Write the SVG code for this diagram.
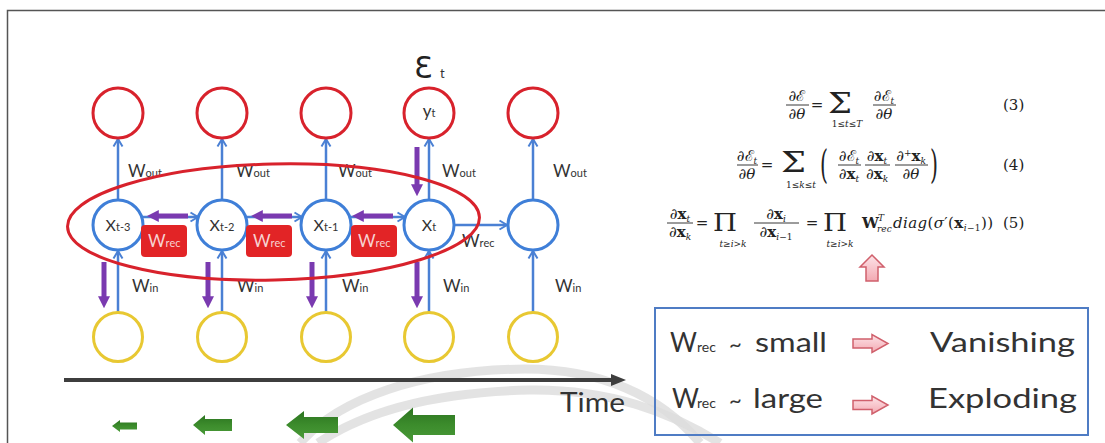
<svg xmlns="http://www.w3.org/2000/svg" width="1105" height="443" viewBox="0 0 1105 443">
  <style>
    .lbl { font-family: Lato, "DejaVu Sans", sans-serif; fill: #333; }
    .math { font-family: "DejaVu Serif", "Liberation Serif", serif; font-size: 15px; fill: #222; }
    .it { font-style: italic; }
    .bf { font-weight: bold; }
    .s { font-size: 9px; }
    .bar { stroke: #222; stroke-width: 0.9; }
    .out { fill: #fff; stroke: #d8222c; stroke-width: 3; }
    .hid { fill: #fff; stroke: #3f7fd8; stroke-width: 3; }
    .inp { fill: #fff; stroke: #e8c832; stroke-width: 3; }
    .wire { stroke: #4a80d4; stroke-width: 2.5; fill: none; marker-end: url(#chev); }
    .grad { stroke: #7a3ab0; stroke-width: 5; fill: none; marker-end: url(#phead); }
    .wrec { fill: #e22426; }
    .wtxt { font-family: Lato, "DejaVu Sans", sans-serif; fill: #f7d2d2; }
    .arc { fill: none; stroke: #dcdcdc; stroke-width: 9; opacity: 0.8; }
    .pink { fill: url(#pinkfill); stroke: #d0606c; stroke-width: 1.5; }
    .green { fill: url(#greenfill); }
  </style>
  <defs>
    <marker id="chev" markerUnits="userSpaceOnUse" markerWidth="12" markerHeight="12" viewBox="0 0 12 12" refX="10.5" refY="6" orient="auto">
      <path d="M3,1.5 L10.5,6 L3,10.5" fill="none" stroke="#4a80d4" stroke-width="2"/>
    </marker>
    <marker id="phead" markerUnits="userSpaceOnUse" markerWidth="12" markerHeight="12" viewBox="0 0 10 10" refX="1.5" refY="5" orient="auto">
      <path d="M0,0 L10,5 L0,10 z" fill="#7a3ab0"/>
    </marker>
    <linearGradient id="pinkfill" x1="0" y1="0" x2="0" y2="1">
      <stop offset="0" stop-color="#fde4e8"/>
      <stop offset="1" stop-color="#f3a9b2"/>
    </linearGradient>
    <linearGradient id="greenfill" x1="0" y1="0" x2="0" y2="1">
      <stop offset="0" stop-color="#2c7420"/>
      <stop offset="0.5" stop-color="#3c8c2c"/>
      <stop offset="1" stop-color="#4a9a38"/>
    </linearGradient>
  </defs>

  <rect width="1105" height="443" fill="#fff"/>

  <!-- frame and faint background arcs -->
  <g id="backdrop">
    <path class="arc" d="M 300 443 C 340 398, 420 370, 525 369 C 600 369, 660 395, 700 443"/>
    <path class="arc" d="M 318 443 C 370 408, 440 392, 530 390 C 610 389, 670 412, 720 443"/>
    <path d="M 7.5 443 L 7.5 10.5 L 1105 10.5" fill="none" stroke="#555" stroke-width="1.5"/>
  </g>

  <!-- weight connections and gradient flow -->
  <g id="connectors">
    <!-- hidden -> output -->
    <line class="wire" x1="118" y1="200" x2="118" y2="139"/>
    <line class="wire" x1="222" y1="200" x2="222" y2="139"/>
    <line class="wire" x1="326" y1="200" x2="326" y2="139"/>
    <line class="wire" x1="429" y1="200" x2="429" y2="139"/>
    <line class="wire" x1="533" y1="200" x2="533" y2="139"/>
    <!-- input -> hidden -->
    <line class="wire" x1="118" y1="312" x2="118" y2="251"/>
    <line class="wire" x1="222" y1="312" x2="222" y2="251"/>
    <line class="wire" x1="326" y1="312" x2="326" y2="251"/>
    <line class="wire" x1="429" y1="312" x2="429" y2="251"/>
    <line class="wire" x1="533" y1="312" x2="533" y2="251"/>
    <!-- hidden -> hidden -->
    <line class="wire" x1="142" y1="217" x2="198" y2="217"/>
    <line class="wire" x1="246" y1="217" x2="302" y2="217"/>
    <line class="wire" x1="350" y1="217" x2="405" y2="217"/>
    <line class="wire" x1="454" y1="225" x2="507" y2="225"/>
    <!-- backpropagated gradients -->
    <line class="grad" x1="417" y1="147" x2="417" y2="186"/>
    <line class="grad" x1="188" y1="216" x2="157" y2="216"/>
    <line class="grad" x1="292" y1="216" x2="261" y2="216"/>
    <line class="grad" x1="393" y1="216" x2="362" y2="216"/>
    <line class="grad" x1="104" y1="262" x2="104" y2="298"/>
    <line class="grad" x1="208" y1="262" x2="208" y2="298"/>
    <line class="grad" x1="312" y1="262" x2="312" y2="298"/>
    <line class="grad" x1="417" y1="262" x2="417" y2="298"/>
  </g>

  <!-- output layer -->
  <g id="y1"><circle class="out" cx="118" cy="113" r="25"/></g>
  <g id="y2"><circle class="out" cx="222" cy="113" r="25"/></g>
  <g id="y3"><circle class="out" cx="326" cy="113" r="25"/></g>
  <g id="y4"><circle class="out" cx="429" cy="113" r="25"/>
    <text class="lbl" x="429" y="117" text-anchor="middle" font-size="17">y<tspan font-size="11">t</tspan></text></g>
  <g id="y5"><circle class="out" cx="533" cy="113" r="25"/></g>

  <!-- hidden layer -->
  <g id="h1"><circle class="hid" cx="118" cy="225" r="25"/>
    <text class="lbl" x="118" y="231" text-anchor="middle" font-size="16" fill="#222">X<tspan font-size="11">t-3</tspan></text></g>
  <g id="h2"><circle class="hid" cx="222" cy="225" r="25"/>
    <text class="lbl" x="222" y="231" text-anchor="middle" font-size="16" fill="#222">X<tspan font-size="11">t-2</tspan></text></g>
  <g id="h3"><circle class="hid" cx="326" cy="225" r="25"/>
    <text class="lbl" x="326" y="231" text-anchor="middle" font-size="16" fill="#222">X<tspan font-size="11">t-1</tspan></text></g>
  <g id="h4"><circle class="hid" cx="429" cy="225" r="25"/>
    <text class="lbl" x="429" y="231" text-anchor="middle" font-size="16" fill="#222">X<tspan font-size="11">t</tspan></text></g>
  <g id="h5"><circle class="hid" cx="533" cy="225" r="25"/></g>

  <!-- input layer -->
  <g id="in1"><circle class="inp" cx="118" cy="337" r="24.5"/></g>
  <g id="in2"><circle class="inp" cx="222" cy="337" r="24.5"/></g>
  <g id="in3"><circle class="inp" cx="326" cy="337" r="24.5"/></g>
  <g id="in4"><circle class="inp" cx="429" cy="337" r="24.5"/></g>
  <g id="in5"><circle class="inp" cx="533" cy="337" r="24.5"/></g>

  <!-- recurrent weight tags -->
  <g id="wrec1"><rect class="wrec" x="141" y="225" width="46" height="32" rx="4"/>
    <text class="wtxt" x="148" y="247" font-size="17">W<tspan font-size="11">rec</tspan></text></g>
  <g id="wrec2"><rect class="wrec" x="246" y="225" width="46" height="32" rx="4"/>
    <text class="wtxt" x="253" y="247" font-size="17">W<tspan font-size="11">rec</tspan></text></g>
  <g id="wrec3"><rect class="wrec" x="351" y="225" width="46" height="32" rx="4"/>
    <text class="wtxt" x="358" y="247" font-size="17">W<tspan font-size="11">rec</tspan></text></g>

  <!-- weight labels -->
  <g id="weight-labels" class="lbl" font-size="17">
    <text x="128" y="177">W<tspan font-size="11">out</tspan></text>
    <text x="236" y="177">W<tspan font-size="11">out</tspan></text>
    <text x="338" y="177">W<tspan font-size="11">out</tspan></text>
    <text x="442" y="177">W<tspan font-size="11">out</tspan></text>
    <text x="553" y="177">W<tspan font-size="11">out</tspan></text>
    <text x="132" y="292">W<tspan font-size="11">in</tspan></text>
    <text x="237" y="292">W<tspan font-size="11">in</tspan></text>
    <text x="342" y="292">W<tspan font-size="11">in</tspan></text>
    <text x="443" y="292">W<tspan font-size="11">in</tspan></text>
    <text x="555" y="292">W<tspan font-size="11">in</tspan></text>
    <text x="462" y="247">W<tspan font-size="11">rec</tspan></text>
  </g>

  <!-- error term -->
  <g id="error">
    <text x="414" y="78" font-family="'DejaVu Sans', sans-serif" font-size="30" fill="#222">Ɛ</text>
    <text class="lbl" x="440" y="78" font-size="13" fill="#222">t</text>
  </g>

  <!-- unrolled window -->
  <ellipse cx="273.5" cy="222" rx="206" ry="58" fill="none" stroke="#d8222c" stroke-width="3" transform="rotate(-1.3 273.5 222)"/>

  <!-- time axis -->
  <g id="time">
    <line x1="64" y1="380" x2="614" y2="380" stroke="#3e3e3e" stroke-width="4"/>
    <polygon points="611,374 626,380 611,386" fill="#3e3e3e"/>
    <text class="lbl" x="560" y="412" font-size="26" textLength="65" lengthAdjust="spacingAndGlyphs" fill="#2a2a2a">Time</text>
  </g>

  <!-- gradient magnitude arrows -->
  <g id="magnitudes">
    <polygon class="green" points="112,426 120,420 120,422.5 137,422.5 137,429.5 120,429.5 120,432"/>
    <polygon class="green" points="193,425 205,415 205,419 232,419 232,431 205,431 205,435"/>
    <polygon class="green" points="286,425 304,411 304,417 338,417 338,433 304,433 304,439"/>
    <polygon class="green" points="393,425 413,407.5 413,415 455,415 455,435 413,435 413,442.5"/>
  </g>

  <!-- equation (3) -->
  <g id="eq3" class="math">
    <text x="797" y="101" text-anchor="middle">∂ℰ</text>
    <line class="bar" x1="786" y1="105" x2="809" y2="105"/>
    <text x="797" y="119" text-anchor="middle">∂<tspan class="it">θ</tspan></text>
    <text x="817" y="110" text-anchor="middle">=</text>
    <text x="828" y="113" font-size="27" textLength="24" lengthAdjust="spacingAndGlyphs">Σ</text>
    <text class="s" x="847" y="127" text-anchor="middle">1≤<tspan class="it">t</tspan>≤<tspan class="it">T</tspan></text>
    <text x="884" y="101" text-anchor="middle">∂ℰ<tspan class="s it" dy="3">t</tspan></text>
    <line class="bar" x1="873" y1="105" x2="896" y2="105"/>
    <text x="884" y="119" text-anchor="middle">∂<tspan class="it">θ</tspan></text>
    <text x="1003" y="110">(3)</text>
  </g>

  <!-- equation (4) -->
  <g id="eq4" class="math">
    <text x="747" y="161" text-anchor="middle">∂ℰ<tspan class="s it" dy="3">t</tspan></text>
    <line class="bar" x1="737" y1="165" x2="758" y2="165"/>
    <text x="747" y="179" text-anchor="middle">∂<tspan class="it">θ</tspan></text>
    <text x="767" y="170" text-anchor="middle">=</text>
    <text x="781" y="172" font-size="27" textLength="25" lengthAdjust="spacingAndGlyphs">Σ</text>
    <text class="s" x="801" y="188" text-anchor="middle">1≤<tspan class="it">k</tspan>≤<tspan class="it">t</tspan></text>
    <text x="820" y="178" font-size="39" textLength="8" lengthAdjust="spacingAndGlyphs">(</text>
    <text x="849" y="161" text-anchor="middle">∂ℰ<tspan class="s it" dy="3">t</tspan></text>
    <line class="bar" x1="838" y1="165" x2="861" y2="165"/>
    <text x="849" y="179" text-anchor="middle">∂<tspan class="bf">x</tspan><tspan class="s it" dy="3">t</tspan></text>
    <text x="877" y="161" text-anchor="middle">∂<tspan class="bf">x</tspan><tspan class="s it" dy="3">t</tspan></text>
    <line class="bar" x1="865" y1="165" x2="890" y2="165"/>
    <text x="877" y="179" text-anchor="middle">∂<tspan class="bf">x</tspan><tspan class="s it" dy="3">k</tspan></text>
    <text x="911" y="161" text-anchor="middle">∂<tspan class="s" dy="-5">+</tspan><tspan class="bf" dy="5">x</tspan><tspan class="s it" dy="3">k</tspan></text>
    <line class="bar" x1="895" y1="165" x2="928" y2="165"/>
    <text x="911" y="179" text-anchor="middle">∂<tspan class="it">θ</tspan></text>
    <text x="930" y="178" font-size="39" textLength="8" lengthAdjust="spacingAndGlyphs">)</text>
    <text x="1003" y="170">(4)</text>
  </g>

  <!-- equation (5) -->
  <g id="eq5" class="math">
    <text x="680" y="219" text-anchor="middle">∂<tspan class="bf">x</tspan><tspan class="s it" dy="3">t</tspan></text>
    <line class="bar" x1="667" y1="223" x2="693" y2="223"/>
    <text x="680" y="237" text-anchor="middle">∂<tspan class="bf">x</tspan><tspan class="s it" dy="3">k</tspan></text>
    <text x="702" y="228" text-anchor="middle">=</text>
    <text x="713" y="231" font-size="25" textLength="24" lengthAdjust="spacingAndGlyphs">Π</text>
    <text class="s" x="733" y="247" text-anchor="middle"><tspan class="it">t</tspan>≥<tspan class="it">i</tspan>&gt;<tspan class="it">k</tspan></text>
    <text x="776" y="219" text-anchor="middle">∂<tspan class="bf">x</tspan><tspan class="s it" dy="3">i</tspan></text>
    <line class="bar" x1="754" y1="223" x2="799" y2="223"/>
    <text x="776" y="237" text-anchor="middle">∂<tspan class="bf">x</tspan><tspan class="s" dy="3"><tspan class="it">i</tspan>−1</tspan></text>
    <text x="812" y="228" text-anchor="middle">=</text>
    <text x="823" y="231" font-size="25" textLength="24" lengthAdjust="spacingAndGlyphs">Π</text>
    <text class="s" x="840" y="247" text-anchor="middle"><tspan class="it">t</tspan>≥<tspan class="it">i</tspan>&gt;<tspan class="it">k</tspan></text>
    <text class="bf" x="862" y="228">W</text>
    <text class="s it" x="878" y="221">T</text>
    <text class="s it" x="877" y="232">rec</text>
    <text x="893" y="228" textLength="100" lengthAdjust="spacing"><tspan class="it">diag</tspan>(<tspan class="it">σ</tspan>′(<tspan class="bf">x</tspan><tspan class="s" dy="3"><tspan class="it">i</tspan>−1</tspan><tspan dy="-3">))</tspan></text>
    <text x="1003" y="228">(5)</text>
  </g>

  <!-- pointer to the recurrent weight term -->
  <path id="pointer" class="pink" d="M872,255 L884,267 L878,267 L878,281 L866,281 L866,267 L860,267 Z"/>

  <!-- legend -->
  <g id="legend">
    <rect x="655" y="308" width="433" height="127" fill="none" stroke="#4f7cc4" stroke-width="2"/>
    <g class="lbl" fill="#2a2a2a">
      <text x="670" y="352" font-size="26">W</text>
      <text x="697" y="352" font-size="14">rec</text>
      <text x="729" y="352" font-size="22">~</text>
      <text x="755" y="352" font-size="26" textLength="72" lengthAdjust="spacingAndGlyphs">small</text>
      <text x="930" y="352" font-size="26" textLength="145" lengthAdjust="spacingAndGlyphs">Vanishing</text>
      <text x="672" y="408" font-size="26">W</text>
      <text x="697" y="408" font-size="14">rec</text>
      <text x="729" y="408" font-size="22">~</text>
      <text x="753" y="408" font-size="26" textLength="70" lengthAdjust="spacingAndGlyphs">large</text>
      <text x="928" y="408" font-size="26" textLength="149" lengthAdjust="spacingAndGlyphs">Exploding</text>
    </g>
    <path class="pink" d="M853,339 L872,339 L872,334.5 L888,343.5 L872,352.5 L872,348 L853,348 Z"/>
    <path class="pink" d="M853,400.5 L872,400.5 L872,396 L888,405 L872,414 L872,409.5 L853,409.5 Z"/>
  </g>
</svg>
